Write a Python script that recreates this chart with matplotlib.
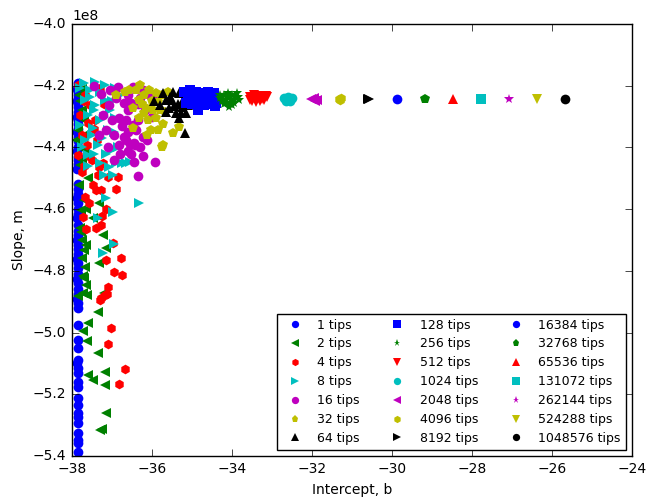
import matplotlib
matplotlib.use('Agg')
import matplotlib.pyplot as plt
import numpy as np

# (intercept b, slope m / 1e8) for each tree size
pts_1 = [(-37.86, -4.19), (-37.85, -4.20), (-37.87, -4.21), (-37.86, -4.22), (-37.85, -4.23),
         (-37.86, -4.24), (-37.87, -4.25), (-37.86, -4.26), (-37.85, -4.27), (-37.86, -4.285),
         (-37.87, -4.30), (-37.86, -4.31), (-37.85, -4.325), (-37.86, -4.34), (-37.87, -4.35),
         (-37.86, -4.365), (-37.85, -4.38), (-37.86, -4.40), (-37.87, -4.41), (-37.86, -4.43),
         (-37.85, -4.44), (-37.86, -4.455), (-37.87, -4.47), (-37.86, -4.52), (-37.85, -4.535),
         (-37.86, -4.55), (-37.87, -4.565), (-37.86, -4.58), (-37.85, -4.60), (-37.86, -4.615),
         (-37.87, -4.63), (-37.86, -4.65), (-37.85, -4.67), (-37.86, -4.685), (-37.87, -4.70),
         (-37.86, -4.715), (-37.85, -4.73), (-37.86, -4.745), (-37.87, -4.76), (-37.86, -4.775),
         (-37.85, -4.79), (-37.86, -4.81), (-37.87, -4.825), (-37.86, -4.84), (-37.85, -4.86),
         (-37.86, -4.875), (-37.87, -4.89), (-37.86, -4.905), (-37.85, -4.92), (-37.86, -4.975),
         (-37.86, -5.024), (-37.85, -5.05), (-37.86, -5.089), (-37.87, -5.10), (-37.86, -5.115),
         (-37.85, -5.131), (-37.86, -5.16), (-37.86, -5.176), (-37.85, -5.212), (-37.86, -5.235),
         (-37.86, -5.26), (-37.85, -5.273), (-37.86, -5.293), (-37.86, -5.325), (-37.85, -5.348),
         (-37.86, -5.358), (-37.86, -5.386)]
pts_2 = [(-37.82, -4.23), (-37.75, -4.279), (-37.85, -4.343), (-37.67, -4.408), (-37.8, -4.457),
         (-37.7, -4.311), (-37.9, -4.376), (-37.82, -4.522), (-37.7, -4.57), (-37.32, -4.58),
         (-37.77, -4.603), (-37.47, -4.629), (-37.77, -4.674), (-37.22, -4.684), (-37.65, -4.716),
         (-37.7, -4.732), (-37.15, -4.726), (-37.75, -4.758), (-37.32, -4.774), (-37.67, -4.787),
         (-37.7, -4.823), (-37.65, -4.846), (-37.2, -4.872), (-37.72, -4.872), (-37.85, -4.881),
         (-37.72, -4.817), (-37.62, -4.878), (-37.35, -4.933), (-37.6, -4.969), (-37.72, -4.995),
         (-37.62, -5.027), (-37.35, -5.066), (-37.6, -5.137), (-37.47, -5.154), (-37.17, -5.128),
         (-37.17, -5.17), (-37.15, -5.261), (-37.25, -5.312), (-37.3, -5.316), (-37.75, -4.21),
         (-37.8, -4.25), (-37.7, -4.36), (-37.75, -4.44), (-37.6, -4.5), (-37.65, -4.6),
         (-37.8, -4.66), (-37.75, -4.7)]
pts_4 = [(-37.85, -4.198), (-37.67, -4.23), (-37.55, -4.262), (-37.8, -4.295), (-37.42, -4.311),
         (-37.75, -4.36), (-37.62, -4.392), (-37.85, -4.424), (-37.5, -4.441), (-37.3, -4.207),
         (-37.37, -4.376), (-37.75, -4.48), (-37.32, -4.463), (-37.22, -4.45), (-37.47, -4.522),
         (-37.4, -4.538), (-37.27, -4.538), (-36.9, -4.535), (-37.1, -4.496), (-36.85, -4.496),
         (-37.67, -4.561), (-37.57, -4.58), (-37.15, -4.6), (-37.25, -4.622), (-37.72, -4.625),
         (-37.65, -4.664), (-37.4, -4.661), (-37.27, -4.651), (-36.97, -4.71), (-36.77, -4.758),
         (-37.15, -4.765), (-36.95, -4.804), (-36.75, -4.813), (-37.1, -4.852), (-37.27, -4.888),
         (-37.17, -4.878), (-37.12, -4.875), (-37.3, -4.894), (-37.02, -4.985), (-37.1, -5.037),
         (-36.67, -5.118), (-36.82, -5.167), (-37.6, -4.32), (-37.45, -4.34), (-37.7, -4.25),
         (-37.2, -4.26), (-37.55, -4.43), (-37.7, -4.46), (-37.35, -4.49)]
pts_8 = [(-37.8, -4.207), (-37.55, -4.214), (-37.3, -4.22), (-37.67, -4.246), (-37.42, -4.262),
         (-37.17, -4.246), (-37.05, -4.279), (-37.6, -4.295), (-37.3, -4.311), (-37.8, -4.327),
         (-37.47, -4.337), (-37.1, -4.343), (-36.92, -4.305), (-37.67, -4.376), (-37.35, -4.392),
         (-37.0, -4.408), (-37.6, -4.424), (-36.85, -4.399), (-36.75, -4.45), (-36.55, -4.447),
         (-36.8, -4.23), (-36.92, -4.207), (-37.17, -4.198), (-37.42, -4.188), (-37.07, -4.463),
         (-37.2, -4.489), (-36.97, -4.489), (-36.65, -4.45), (-36.9, -4.45), (-37.15, -4.564),
         (-36.32, -4.58), (-36.97, -4.609), (-37.35, -4.629), (-36.95, -4.713), (-37.22, -4.742),
         (-37.7, -4.19), (-37.55, -4.235), (-37.45, -4.28), (-37.2, -4.3), (-37.5, -4.36),
         (-37.25, -4.37), (-37.75, -4.4), (-37.45, -4.42), (-37.15, -4.42), (-37.3, -4.45),
         (-37.6, -4.46), (-37.0, -4.25), (-36.95, -4.35)]
pts_16 = [(-37.45, -4.201), (-37.27, -4.227), (-36.85, -4.204), (-36.47, -4.204), (-36.22, -4.214),
          (-37.07, -4.262), (-36.9, -4.24), (-36.7, -4.256), (-36.52, -4.256), (-36.82, -4.305),
          (-36.65, -4.311), (-36.47, -4.327), (-36.35, -4.311), (-36.65, -4.376), (-36.45, -4.386),
          (-36.7, -4.366), (-36.4, -4.343), (-36.22, -4.366), (-37.32, -4.36), (-37.15, -4.343),
          (-36.95, -4.36), (-36.82, -4.392), (-36.52, -4.421), (-36.22, -4.428), (-35.92, -4.447),
          (-36.45, -4.447), (-36.35, -4.493), (-36.12, -4.376), (-36.42, -4.392), (-37.05, -4.214),
          (-36.05, -4.23), (-37.22, -4.295), (-36.6, -4.279), (-36.17, -4.279), (-35.92, -4.246),
          (-37.0, -4.31), (-36.75, -4.33), (-36.6, -4.35), (-36.55, -4.39), (-36.8, -4.42),
          (-36.6, -4.41), (-36.3, -4.40), (-36.0, -4.30), (-36.35, -4.26), (-36.6, -4.23),
          (-36.3, -4.24), (-37.1, -4.4), (-36.95, -4.44)]
pts_32 = [(-36.9, -4.23), (-36.57, -4.214), (-36.4, -4.214), (-36.2, -4.23), (-36.07, -4.214),
          (-35.9, -4.224), (-36.32, -4.246), (-36.47, -4.272), (-36.15, -4.272), (-35.97, -4.279),
          (-35.85, -4.253), (-36.32, -4.305), (-36.1, -4.311), (-35.9, -4.305), (-35.72, -4.324),
          (-36.02, -4.343), (-35.85, -4.343), (-36.47, -4.337), (-35.47, -4.353), (-35.32, -4.334),
          (-35.72, -4.392), (-36.12, -4.36), (-35.75, -4.399), (-35.75, -4.23), (-35.6, -4.22),
          (-36.3, -4.198), (-36.67, -4.22), (-35.67, -4.285), (-36.25, -4.26), (-36.0, -4.25),
          (-35.8, -4.28), (-36.2, -4.29)]
pts_64 = [(-35.95, -4.25), (-35.72, -4.224), (-35.65, -4.246), (-35.47, -4.22), (-35.32, -4.224),
          (-35.22, -4.246), (-35.57, -4.272), (-35.4, -4.288), (-35.27, -4.288), (-35.15, -4.288),
          (-35.65, -4.285), (-35.17, -4.353), (-35.32, -4.305), (-35.1, -4.262), (-35.05, -4.23),
          (-35.5, -4.246), (-35.35, -4.259), (-35.8, -4.262), (-35.2, -4.22), (-35.45, -4.265),
          (-35.55, -4.235), (-35.25, -4.27)]
pts_128 = [(-35.2, -4.22), (-35.05, -4.215), (-34.9, -4.22), (-34.75, -4.225), (-34.6, -4.22),
           (-34.45, -4.225), (-34.38, -4.24), (-35.1, -4.24), (-34.95, -4.245), (-34.8, -4.24),
           (-34.65, -4.245), (-34.5, -4.24), (-34.4, -4.255), (-35.0, -4.26), (-34.85, -4.26),
           (-34.7, -4.262), (-34.55, -4.258), (-34.85, -4.28), (-35.15, -4.255), (-34.42, -4.265)]
pts_256 = [(-34.3, -4.24), (-34.2, -4.23), (-34.1, -4.225), (-34.0, -4.23), (-33.9, -4.235),
           (-33.82, -4.245), (-34.25, -4.25), (-34.15, -4.255), (-34.05, -4.26), (-33.95, -4.255),
           (-34.1, -4.24), (-34.0, -4.245), (-34.08, -4.27), (-33.88, -4.225), (-34.25, -4.235),
           (-34.15, -4.245), (-33.95, -4.245), (-34.2, -4.26), (-34.0, -4.262), (-33.85, -4.238),
           (-34.05, -4.232), (-34.3, -4.23)]
pts_512 = [(-33.55, -4.235), (-33.45, -4.23), (-33.35, -4.232), (-33.25, -4.232), (-33.12, -4.238),
           (-33.5, -4.248), (-33.4, -4.252), (-33.3, -4.25), (-33.2, -4.245), (-33.35, -4.24),
           (-33.55, -4.245), (-33.45, -4.24), (-33.25, -4.242), (-33.15, -4.232), (-33.3, -4.235),
           (-33.4, -4.245)]
pts_1024 = [(-32.7, -4.24), (-32.6, -4.235), (-32.5, -4.24), (-32.65, -4.25), (-32.55, -4.248),
            (-32.6, -4.243)]
pts_2048 = [(-32.02, -4.243), (-31.95, -4.24), (-31.88, -4.245), (-31.92, -4.248)]
pts_4096 = [(-31.33, -4.243), (-31.27, -4.24), (-31.3, -4.246)]
pts_8192 = [(-30.6, -4.243), (-30.57, -4.244)]
pts_16384 = [(-29.88, -4.243)]
pts_32768 = [(-29.18, -4.243)]
pts_65536 = [(-28.48, -4.243)]
pts_131072 = [(-27.78, -4.243)]
pts_262144 = [(-27.08, -4.243)]
pts_524288 = [(-26.38, -4.243)]
pts_1048576 = [(-25.68, -4.243)]

tips = [1, 2, 4, 8, 16, 32, 64, 128, 256, 512, 1024, 2048, 4096, 8192,
        16384, 32768, 65536, 131072, 262144, 524288, 1048576]
all_pts = [pts_1, pts_2, pts_4, pts_8, pts_16, pts_32, pts_64, pts_128, pts_256, pts_512,
           pts_1024, pts_2048, pts_4096, pts_8192, pts_16384, pts_32768, pts_65536,
           pts_131072, pts_262144, pts_524288, pts_1048576]

colors = ['b', 'g', 'r', 'c', 'm', 'y', 'k']
markers = ['o', '<', 'h', '>', 'o', 'p', '^', 's', '*', 'v']

plt.style.use('classic')
plt.rcParams['font.family'] = 'DejaVu Sans'
plt.rcParams['font.size'] = 10

fig = plt.figure(figsize=(6.62, 4.98), dpi=100)
ax = fig.add_axes([0.1088, 0.0843, 0.9547 - 0.1088, 0.9518 - 0.0843])

for i in range(len(tips)):
    p = np.array(all_pts[i])
    ax.plot(p[:, 0], p[:, 1] * 1e8, linestyle='none',
            marker=markers[i % len(markers)], color=colors[i % len(colors)],
            markersize=7, markeredgewidth=0, label='%d tips' % tips[i])

ax.set_xlim(-38, -24)
ax.set_ylim(-5.4e8, -4.0e8)
ax.set_xticks(np.arange(-38, -23, 2))
ax.set_yticks(np.arange(-5.4e8, -3.99e8, 0.2e8))
ax.tick_params(labelsize=10, length=5)
ax.set_xlabel('Intercept, b', fontsize=10)
ax.set_ylabel('Slope, m', fontsize=10)
ax.yaxis.get_offset_text().set_fontsize(10)

leg = ax.legend(loc='lower right', ncol=3, numpoints=1, fontsize=9,
                markerscale=0.75, handlelength=2, handletextpad=0.8,
                columnspacing=2, labelspacing=0.47, borderaxespad=0.5,
                borderpad=0.4, fancybox=False)
leg.get_frame().set_edgecolor('black')

fig.savefig('out.png', dpi=100, facecolor='white')
